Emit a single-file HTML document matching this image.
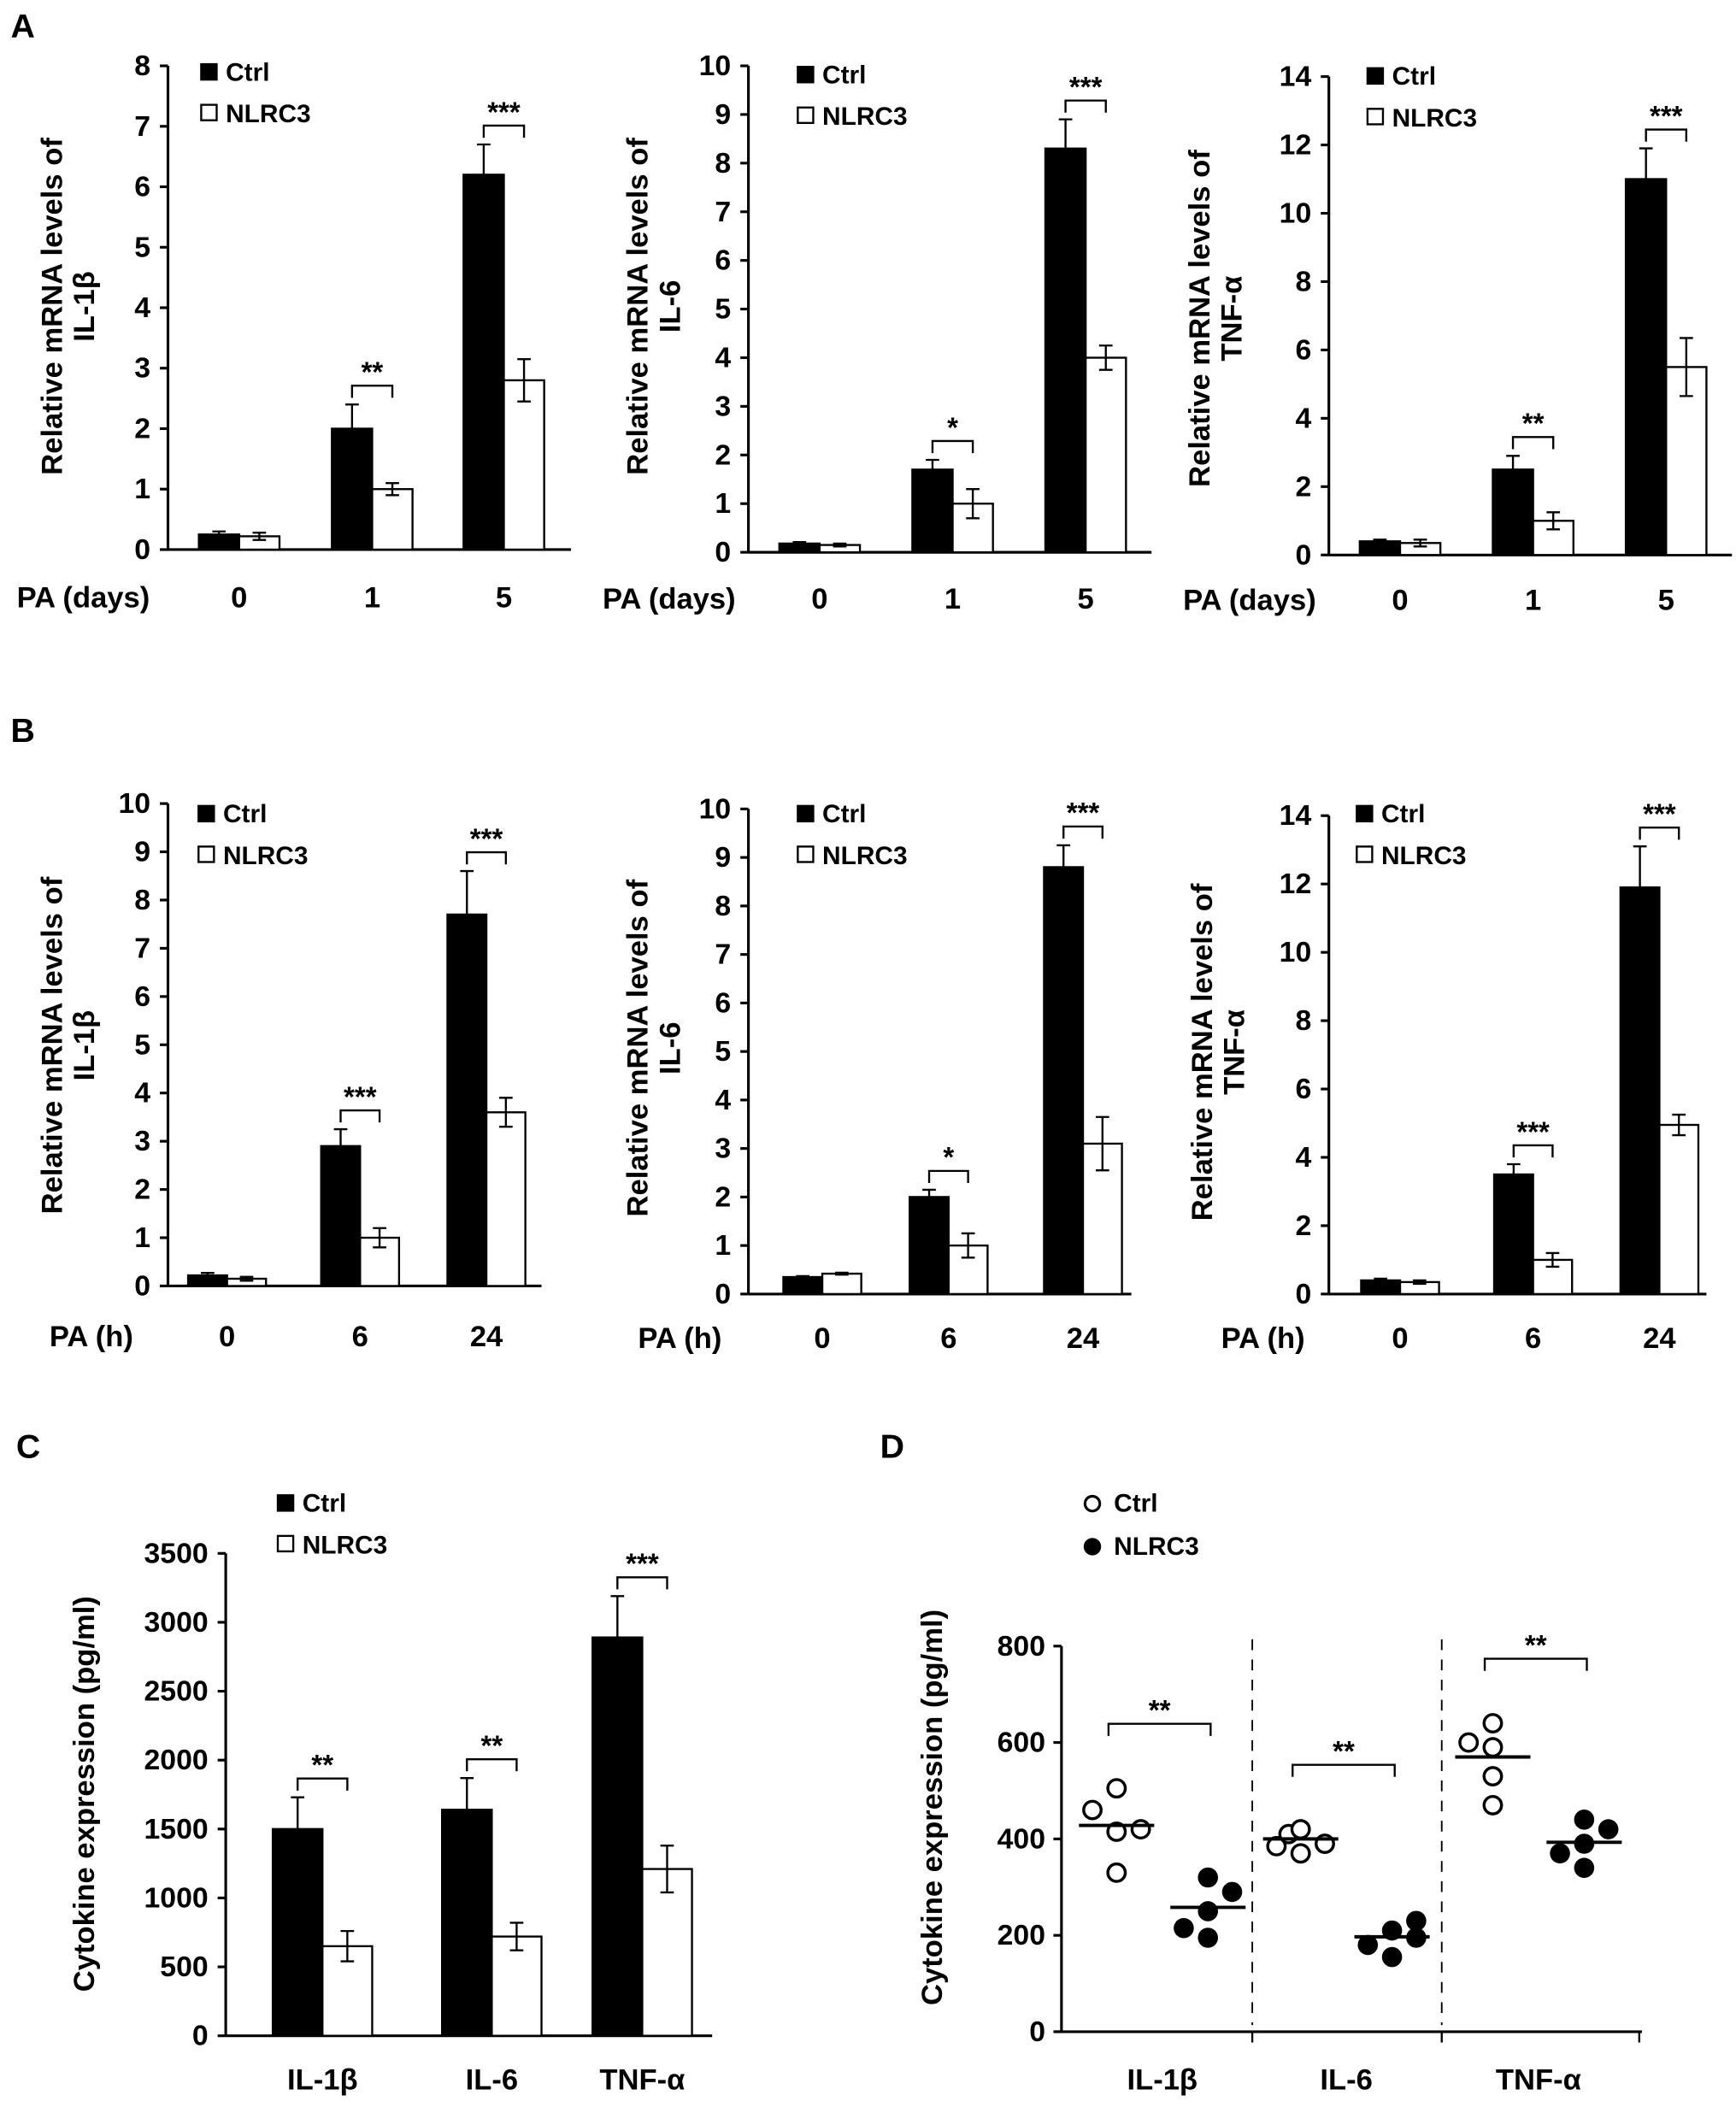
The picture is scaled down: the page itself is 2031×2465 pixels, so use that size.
<!DOCTYPE html>
<html><head><meta charset="utf-8"><style>
html,body{margin:0;padding:0;background:#fff;}
svg{display:block;font-family:"Liberation Sans",Arial,sans-serif;font-weight:bold;}
</style></head><body>
<svg id="fig" xmlns="http://www.w3.org/2000/svg" width="2031" height="2465" viewBox="0 0 1292 1568" preserveAspectRatio="none">
<rect width="1292" height="1568" fill="#fff"/>
<g id="root"></g>
</svg>
<script>
// ---- data ----
const a1Cats=["0","1","5"], a1Ctrl=[0.25,2.0,6.2], a1CtrlErr=[0.05,0.4,0.5], a1Nl=[0.22,1.0,2.8], a1NlErr=[0.06,0.1,0.35], a1Sig=["","**","***"], a1Ticks=[0,1,2,3,4,5,6,7,8];
const a2Cats=["0","1","5"], a2Ctrl=[0.18,1.7,8.3], a2CtrlErr=[0.03,0.2,0.6], a2Nl=[0.15,1.0,4.0], a2NlErr=[0.03,0.3,0.25], a2Sig=["","*","***"], a2Ticks=[0,1,2,3,4,5,6,7,8,9,10];
const a3Cats=["0","1","5"], a3Ctrl=[0.4,2.5,11.0], a3CtrlErr=[0.05,0.4,0.9], a3Nl=[0.35,1.0,5.5], a3NlErr=[0.1,0.25,0.85], a3Sig=["","**","***"], a3Ticks=[0,2,4,6,8,10,12,14];
const b1Cats=["0","6","24"], b1Ctrl=[0.22,2.9,7.7], b1CtrlErr=[0.05,0.35,0.9], b1Nl=[0.15,1.0,3.6], b1NlErr=[0.04,0.2,0.3], b1Sig=["","***","***"], b1Ticks=[0,1,2,3,4,5,6,7,8,9,10];
const b2Cats=["0","6","24"], b2Ctrl=[0.35,2.0,8.8], b2CtrlErr=[0.02,0.15,0.45], b2Nl=[0.42,1.0,3.1], b2NlErr=[0.02,0.25,0.55], b2Sig=["","*","***"], b2Ticks=[0,1,2,3,4,5,6,7,8,9,10];
const b3Cats=["0","6","24"], b3Ctrl=[0.4,3.5,11.9], b3CtrlErr=[0.05,0.3,1.2], b3Nl=[0.35,1.0,4.95], b3NlErr=[0.05,0.2,0.3], b3Sig=["","***","***"], b3Ticks=[0,2,4,6,8,10,12,14];
const cCats=["IL-1β","IL-6","TNF-α"], cCtrl=[1500,1640,2890], cCtrlErr=[230,230,300], cNl=[650,720,1210], cNlErr=[110,100,170], cSig=["**","**","***"], cTicks=[0,500,1000,1500,2000,2500,3000,3500];
const dCats=["IL-1β","IL-6","TNF-α"];
const dCtrlPts=[[460,505,415,420,330],[385,410,420,370,390],[600,640,590,530,470]];
const dNlPts=[[320,290,250,215,195],[180,210,230,195,155],[440,420,390,370,340]];
const dCtrlMean=[428,400,570], dNlMean=[258,197,393];
const dSig=["**","**","**"], dTicks=[0,200,400,600,800];
const dJitC=[[-1,0,0,1,0],[-1,-0.5,0,0,1],[-1,0,0,0,0]];
const dJitN=[[0,1,0,-1,0],[-1,0,1,1,0],[0,1,0,-1,0]];

const NS="http://www.w3.org/2000/svg";
const root=document.getElementById('root');
const TF=21.5, TT=22;
function el(tag,attrs,parent,text){const e=document.createElementNS(NS,tag);for(const k in attrs)e.setAttribute(k,attrs[k]);if(text!==undefined)e.textContent=text;(parent||root).appendChild(e);return e;}

function bracket(g,x1,x2,y,label,name){
  const p=el('path',{d:`M${x1},${y+9}V${y}H${x2}V${y+9}`,fill:'none',stroke:'#000','stroke-width':1.5},g);
  
  
  const t=el('text',{x:(x1+x2)/2,y:y-3,'text-anchor':'middle','font-size':21},g,label);
  
  
}

function legendBars(g,x,y){
  const r1=el('rect',{x:x,y:y-13,width:13,height:13,fill:'#000'},g);
  
  
  const t1=el('text',{x:x+19,y:y,'font-size':19},g,'Ctrl');
  
  
  const r2=el('rect',{x:x+0.75,y:y+18,width:11.5,height:11.5,fill:'#fff',stroke:'#000','stroke-width':1.5},g);
  
  
  const t2=el('text',{x:x+19,y:y+31,'font-size':19},g,'NLRC3');
  
  
}

function barChart(o){
  const g=el('g',{});
  
  
  const max=o.ticks[o.ticks.length-1];
  const Y=v=>o.y0-(v/max)*(o.y0-o.yTop);
  const ya=el('line',{x1:o.ax,y1:o.yTop,x2:o.ax,y2:o.y0,stroke:'#000','stroke-width':2},g);
  
  const xa=el('line',{x1:o.ax,y1:o.y0,x2:o.axEnd,y2:o.y0,stroke:'#000','stroke-width':2},g);
  
  o.ticks.forEach(t=>{
    el('line',{x1:o.ax-6,y1:Y(t),x2:o.ax,y2:Y(t),stroke:'#000','stroke-width':2},g);
    const tl=el('text',{x:o.ax-13,y:Y(t)+7,'text-anchor':'end','font-size':TF},g,String(t));
    
    
  });
  o.cats.forEach((c,i)=>{
    const cx=o.centers[i];
    const bc=el('rect',{x:cx-o.bw,y:Y(o.ctrl[i]),width:o.bw,height:o.y0-Y(o.ctrl[i]),fill:'#000',stroke:'#000','stroke-width':1.5},g);
    
    
    const bn=el('rect',{x:cx,y:Y(o.nl[i]),width:o.bw,height:o.y0-Y(o.nl[i]),fill:'#fff',stroke:'#000','stroke-width':1.5},g);
    
    
    [[cx-o.bw/2,o.ctrl[i],o.ctrlErr[i]],[cx+o.bw/2,o.nl[i],o.nlErr[i]]].forEach(([x,v,e])=>{
      const ep=el('path',{d:`M${x},${Y(v-e)}V${Y(v+e)}M${x-5},${Y(v+e)}H${x+5}M${x-5},${Y(v-e)}H${x+5}`,stroke:'#000','stroke-width':1.5,fill:'none'},g);
      
      
    });
    if(o.sig[i]){
      const top=Math.max(o.ctrl[i]+o.ctrlErr[i],o.nl[i]+o.nlErr[i]);
      bracket(g,cx-o.bw/2,cx+o.bw/2,Y(top)-o.bgap,o.sig[i],'sig-'+c);
    }
    const xl=el('text',{x:cx,y:o.xLabY,'text-anchor':'middle','font-size':TT},g,c);
    
    
  });
  if(o.xTitle){
    const xt=el('text',{x:o.xTitleX,y:o.xLabY,'text-anchor':'middle','font-size':TT},g,o.xTitle);
    
    
  }
  const yt=el('text',{transform:`translate(${o.ytX},${o.ytY}) rotate(-90)`,'text-anchor':'middle','font-size':TT},g);
  
  
  o.yTitle.forEach((l,k)=>{el('tspan',{x:0,dy:k===0?0:24},yt,l);});
  legendBars(g,o.legX,o.legY);
}

function panelLabel(x,y,t){
  const e=el('text',{x:x,y:y,'font-size':25},root,t);
  
  
}
panelLabel(8,28,'A');panelLabel(8,552,'B');panelLabel(12,1085,'C');panelLabel(655,1085,'D');

const yIL1=["Relative mRNA levels of","IL-1β"], yIL6=["Relative mRNA levels of","IL-6"], yTNF=["Relative mRNA levels of","TNF-α"];
barChart({name:'chart-a-il1b',ax:125,axEnd:425,y0:409,yTop:49,ticks:a1Ticks,cats:a1Cats,ctrl:a1Ctrl,ctrlErr:a1CtrlErr,nl:a1Nl,nlErr:a1NlErr,sig:a1Sig,centers:[178,277,375],bw:30,bgap:14,xLabY:452,xTitle:'PA (days)',xTitleX:62,yTitle:yIL1,ytX:46,ytY:228,legX:149,legY:60});
barChart({name:'chart-a-il6',ax:557,axEnd:857,y0:411,yTop:49,ticks:a2Ticks,cats:a2Cats,ctrl:a2Ctrl,ctrlErr:a2CtrlErr,nl:a2Nl,nlErr:a2NlErr,sig:a2Sig,centers:[610,709,808],bw:30,bgap:14,xLabY:453,xTitle:'PA (days)',xTitleX:498,yTitle:yIL6,ytX:482,ytY:228,legX:593,legY:62});
barChart({name:'chart-a-tnfa',ax:989,axEnd:1289,y0:413,yTop:57,ticks:a3Ticks,cats:a3Cats,ctrl:a3Ctrl,ctrlErr:a3CtrlErr,nl:a3Nl,nlErr:a3NlErr,sig:a3Sig,centers:[1042,1141,1240],bw:30,bgap:14,xLabY:454,xTitle:'PA (days)',xTitleX:930,yTitle:yTNF,ytX:900,ytY:237,legX:1017,legY:63});
barChart({name:'chart-b-il1b',ax:125,axEnd:403,y0:957,yTop:598,ticks:b1Ticks,cats:b1Cats,ctrl:b1Ctrl,ctrlErr:b1CtrlErr,nl:b1Nl,nlErr:b1NlErr,sig:b1Sig,centers:[169,268,362],bw:29,bgap:14,xLabY:1002,xTitle:'PA (h)',xTitleX:68,yTitle:yIL1,ytX:46,ytY:778,legX:147,legY:612});
barChart({name:'chart-b-il6',ax:557,axEnd:842,y0:963,yTop:602,ticks:b2Ticks,cats:b2Cats,ctrl:b2Ctrl,ctrlErr:b2CtrlErr,nl:b2Nl,nlErr:b2NlErr,sig:b2Sig,centers:[612,706,806],bw:29,bgap:14,xLabY:1003,xTitle:'PA (h)',xTitleX:506,yTitle:yIL6,ytX:482,ytY:780,legX:593,legY:612});
barChart({name:'chart-b-tnfa',ax:989,axEnd:1270,y0:963,yTop:607,ticks:b3Ticks,cats:b3Cats,ctrl:b3Ctrl,ctrlErr:b3CtrlErr,nl:b3Nl,nlErr:b3NlErr,sig:b3Sig,centers:[1042,1141,1235],bw:29,bgap:14,xLabY:1003,xTitle:'PA (h)',xTitleX:940,yTitle:yTNF,ytX:902,ytY:783,legX:1009,legY:612});
barChart({name:'chart-c-cytokine',ax:168,axEnd:530,y0:1515,yTop:1156,ticks:cTicks,cats:cCats,ctrl:cCtrl,ctrlErr:cCtrlErr,nl:cNl,nlErr:cNlErr,sig:cSig,centers:[240,366,478],bw:37,bgap:14,xLabY:1555,xTitle:'',yTitle:["Cytokine expression (pg/ml)"],ytX:70,ytY:1335,legX:206,legY:1125});

// ---- panel D scatter ----
(function(){
  const g=el('g',{});
  
  
  const ax=790,y0=1512,yTop=1225,axEnd=1222;
  const Y=v=>y0-(v/800)*(y0-yTop);
  const centers=[865,1002,1145], off=34, jit=18;
  const ya=el('line',{x1:ax,y1:yTop,x2:ax,y2:y0,stroke:'#000','stroke-width':2},g);
  
  const xa=el('line',{x1:ax-5,y1:y0,x2:axEnd,y2:y0,stroke:'#000','stroke-width':2},g);
  
  [932,1073,1220].forEach(x=>el('line',{x1:x,y1:y0,x2:x,y2:y0+8,stroke:'#000','stroke-width':1.5},g));
  [932,1073].forEach(x=>{
    const d=el('line',{x1:x,y1:1220,x2:x,y2:y0-5,stroke:'#000','stroke-width':1.2,'stroke-dasharray':'8,7'},g);
    
    
  });
  dTicks.forEach(t=>{
    el('line',{x1:ax-6,y1:Y(t),x2:ax,y2:Y(t),stroke:'#000','stroke-width':2},g);
    const tl=el('text',{x:ax-12,y:Y(t)+7,'text-anchor':'end','font-size':TF},g,String(t));
    
    
  });
  dCats.forEach((c,i)=>{
    const cc=centers[i]-off, cn=centers[i]+off;
    dCtrlPts[i].forEach((v,k)=>{
      const p=el('circle',{cx:cc+dJitC[i][k]*jit,cy:Y(v),r:6.5,fill:'#fff',stroke:'#000','stroke-width':2.2},g);
      
      
    });
    dNlPts[i].forEach((v,k)=>{
      const p=el('circle',{cx:cn+dJitN[i][k]*jit,cy:Y(v),r:7.5,fill:'#000'},g);
      
      
    });
    const m1=el('line',{x1:cc-28,x2:cc+28,y1:Y(dCtrlMean[i]),y2:Y(dCtrlMean[i]),stroke:'#000','stroke-width':2.5},g);
    
    
    const m2=el('line',{x1:cn-28,x2:cn+28,y1:Y(dNlMean[i]),y2:Y(dNlMean[i]),stroke:'#000','stroke-width':2.5},g);
    
    
    const top=Math.max(...dCtrlPts[i]);
    bracket(g,cc-6,cn+2,Y(top)-48,dSig[i],'sig-'+c);
    const xl=el('text',{x:centers[i],y:1555,'text-anchor':'middle','font-size':TT},g,c);
    
    
  });
  const yt=el('text',{transform:'translate(701,1345) rotate(-90)','text-anchor':'middle','font-size':TT},g,'Cytokine expression (pg/ml)');
  
  
  const l1=el('circle',{cx:813,cy:1119,r:5.5,fill:'#fff',stroke:'#000','stroke-width':2},g);
  
  const lt1=el('text',{x:829,y:1125,'font-size':19},g,'Ctrl');
  
  const l2=el('circle',{cx:813,cy:1151,r:6.5,fill:'#000'},g);
  
  const lt2=el('text',{x:829,y:1157,'font-size':19},g,'NLRC3');
  
})();
</script>
</body></html>
